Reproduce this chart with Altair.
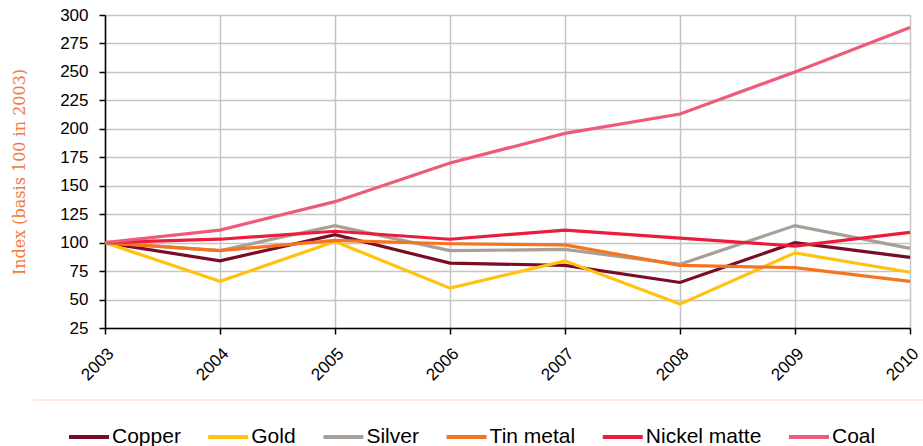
import altair as alt
import pandas as pd

years = [2003, 2004, 2005, 2006, 2007, 2008, 2009, 2010]
copper = [100, 84, 107, 82, 80, 65, 100, 87]
gold = [100, 66, 101, 60, 84, 46, 91, 74]
silver = [100, 93, 115, 93, 94, 81, 115, 95]
tin_metal = [100, 93, 102, 99, 98, 80, 78, 66]
nickel_matte = [100, 103, 110, 103, 111, 104, 97, 109]
coal = [100, 111, 136, 170, 196, 213, 250, 289]

series_names = ["Copper", "Gold", "Silver", "Tin metal", "Nickel matte", "Coal"]
series_values = [copper, gold, silver, tin_metal, nickel_matte, coal]
series_colors = ["#7A0C26", "#FFC20E", "#A89F97", "#F47421", "#EC1C3C", "#EE5A79"]
y_ticks = [25, 50, 75, 100, 125, 150, 175, 200, 225, 250, 275, 300]

rows = []
for name, vals in zip(series_names, series_values):
    for yr, v in zip(years, vals):
        rows.append({"Year": str(yr), "Series": name, "Value": v, "order": series_names.index(name)})
df = pd.DataFrame(rows)

lines = alt.Chart(df).mark_line(strokeWidth=3.2).encode(
    x=alt.X("Year:O", scale=alt.Scale(type="point", padding=0),
            axis=alt.Axis(title=None, labelAngle=-45, labelFontSize=17, labelColor="black",
                          labelFont="Liberation Sans", tickColor="black", tickSize=6,
                          domainColor="black", domainWidth=1.5, tickWidth=1.5,
                          grid=True, gridColor="#C4C4C4", gridWidth=1.5, labelPadding=11)),
    y=alt.Y("Value:Q", scale=alt.Scale(domain=[25, 300], nice=False, zero=False),
            axis=alt.Axis(title="Index (basis 100 in 2003)", values=y_ticks,
                          titleFont="DejaVu Serif", titleFontWeight="normal", titleFontSize=16,
                          titleColor="#F4793A", titlePadding=32,
                          labelFontSize=17, labelColor="black", labelFont="Liberation Sans",
                          tickColor="black", tickSize=6, tickWidth=1.5, labelPadding=11,
                          domainColor="black", domainWidth=1.5,
                          grid=True, gridColor="#C4C4C4", gridWidth=1.5)),
    color=alt.Color("Series:N", scale=alt.Scale(domain=series_names, range=series_colors),
                    legend=alt.Legend(title=None, orient="none", direction="horizontal",
                                      legendX=-38, legendY=400,
                                      symbolType="stroke", symbolStrokeWidth=4,
                                      symbolSize=1600, labelFontSize=21,
                                      labelFont="Liberation Sans", labelColor="black",
                                      columnPadding=19.2, labelOffset=1, labelLimit=300)),
    order="order:Q",
    detail="Series:N",
)

sep = alt.Chart(pd.DataFrame({"a": [0]})).mark_rule(color="#FBE1D2", strokeWidth=1.5).encode(
    x=alt.value(-72), x2=alt.value(818), y=alt.value(385)
)

chart = alt.layer(sep, lines).properties(
    width=805, height=313,
    padding={"left": 105, "top": 15, "right": 13, "bottom": 118},
    autosize=alt.AutoSizeParams(type="none"),
).configure_view(stroke=None).configure(background="white")

chart.save("out.html", embed_options={"renderer": "svg", "actions": False})
